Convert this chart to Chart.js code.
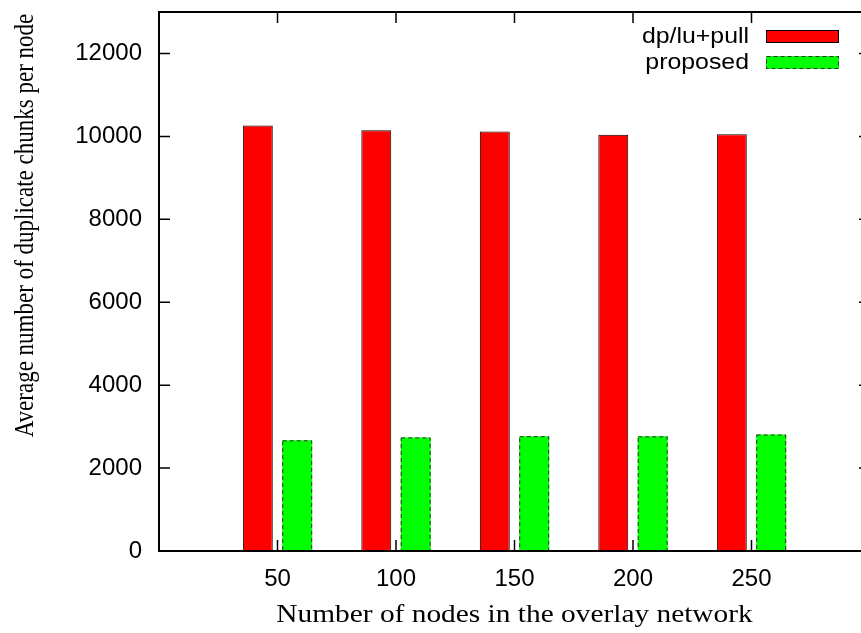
<!DOCTYPE html>
<html>
<head>
<meta charset="utf-8">
<script src="https://cdn.jsdelivr.net/npm/chart.js@4/dist/chart.umd.min.js"></script>
<style>
  html, body { margin: 0; padding: 0; overflow: hidden; background: #fff; }
  canvas { display: block; }
</style>
</head>
<body>
<canvas id="chart" width="880" height="633"></canvas>
<script>
// Number of nodes in the overlay (x categories)
const nodeCounts = [50, 100, 150, 200, 250];
// Average duplicate chunks per node for each scheme
const pullDuplicates = [10260, 10150, 10120, 10040, 10050];
const proposedDuplicates = [2670, 2740, 2770, 2765, 2810];
// Value axis ticks and range
const yTickValues = [0, 2000, 4000, 6000, 8000, 10000, 12000];
const yMax = 13000;

const seriesNames = ['dp/lu+pull', 'proposed'];
const xTitle = 'Number of nodes in the overlay network';
const yTitle = 'Average number of duplicate chunks per node';

// an empty slot on each side so the groups sit inside a wider axis
const labels = ['', ...nodeCounts.map(String), ''];
const padSeries = arr => [null, ...arr, null];

const SANS = 'Liberation Sans, Arial, sans-serif';
const SERIF = 'Liberation Serif, Times New Roman, serif';
const STRETCH = 1.13; // the lettering is set slightly wide

function wideText(ctx, text, x, y, font, align, baseline, rotate, stretch) {
  ctx.save();
  ctx.translate(x, y);
  ctx.scale(stretch || STRETCH, 1);
  if (rotate) ctx.rotate(-Math.PI / 2);
  ctx.font = font;
  ctx.textAlign = align;
  ctx.textBaseline = baseline;
  ctx.fillStyle = '#000';
  ctx.fillText(text, 0, 0);
  ctx.restore();
}

// frame, inward ticks, dashed outlines, legend and axis titles
const decorations = {
  id: 'decorations',
  afterDatasetsDraw(chart) {
    const ctx = chart.ctx;
    const meta = chart.getDatasetMeta(1);
    ctx.save();
    ctx.setLineDash([4, 3]);
    ctx.strokeStyle = '#333';
    ctx.lineWidth = 1;
    meta.data.forEach(bar => {
      const p = bar.getProps(['x', 'y', 'base', 'width'], true);
      if (!Number.isFinite(p.y) || !Number.isFinite(p.x)) return;
      ctx.strokeRect(p.x - p.width / 2 + 0.5, p.y + 0.5, p.width - 1, p.base - p.y - 1);
    });
    ctx.restore();
  },
  afterDraw(chart) {
    const ctx = chart.ctx;
    const a = chart.chartArea;
    const xs = chart.scales.x, ys = chart.scales.y;
    const tl = 11;
    ctx.save();
    ctx.strokeStyle = '#000';
    ctx.lineWidth = 1.5;
    ctx.beginPath();
    ys.ticks.forEach(t => {
      const py = ys.getPixelForValue(t.value);
      ctx.moveTo(a.left, py); ctx.lineTo(a.left + tl, py);
      ctx.moveTo(a.right, py); ctx.lineTo(a.right - tl, py);
    });
    nodeCounts.forEach((_, i) => {
      const px = xs.getPixelForValue(i + 1);
      ctx.moveTo(px, a.bottom); ctx.lineTo(px, a.bottom - tl);
      ctx.moveTo(px, a.top); ctx.lineTo(px, a.top + tl);
    });
    ctx.stroke();
    ctx.lineWidth = 2;
    ctx.strokeRect(a.left, a.top, a.right - a.left, a.bottom - a.top);

    // legend, text to the left of each swatch
    chart.data.datasets.forEach((ds, i) => {
      const cy = 36.5 + i * 26;
      wideText(ctx, ds.label, 749, cy, '22px ' + SANS, 'right', 'middle', false);
      ctx.fillStyle = ds.backgroundColor;
      ctx.fillRect(766, cy - 6.5, 73, 13);
      ctx.lineWidth = 1;
      ctx.strokeStyle = i === 0 ? '#000' : '#333';
      ctx.setLineDash(i === 0 ? [] : [4, 3]);
      ctx.strokeRect(766.5, cy - 6, 72, 12);
    });
    ctx.setLineDash([]);
    ctx.restore();

    // axis titles
    wideText(ctx, xTitle, (a.left + a.right) / 2, 622, '26px ' + SERIF, 'center', 'alphabetic', false);
    wideText(ctx, yTitle, 33, 225.5, '23px ' + SERIF, 'center', 'alphabetic', true, 1.2);
  }
};

new Chart(document.getElementById('chart'), {
  type: 'bar',
  data: {
    labels: labels,
    datasets: [
      {
        label: seriesNames[0],
        data: padSeries(pullDuplicates),
        backgroundColor: '#ff0000',
        borderColor: '#000000',
        borderWidth: 1,
        categoryPercentage: 0.665,
        barPercentage: 0.76
      },
      {
        label: seriesNames[1],
        data: padSeries(proposedDuplicates),
        backgroundColor: '#00ff00',
        borderWidth: 0,
        categoryPercentage: 0.665,
        barPercentage: 0.76
      }
    ]
  },
  options: {
    responsive: false,
    animation: false,
    layout: { padding: { top: 12, right: 10, bottom: 0, left: 0 } },
    plugins: { legend: { display: false }, tooltip: { enabled: false } },
    scales: {
      x: {
        offset: false,
        grid: { display: false, drawTicks: false },
        border: { display: false },
        ticks: {
          autoSkip: false, maxRotation: 0, padding: 14, color: '#000',
          font: { family: SANS, size: 24 }
        },
        afterFit(s) { s.height = 82; s.paddingLeft = 0; s.paddingRight = 0; }
      },
      y: {
        min: 0, max: yMax,
        grid: { display: false, drawTicks: false },
        border: { display: false },
        ticks: {
          padding: 17, color: '#000',
          font: { family: SANS, size: 24 },
          callback: v => String(v)
        },
        afterBuildTicks(s) { s.ticks = yTickValues.map(v => ({ value: v })); },
        afterFit(s) { s.width = 159; s.paddingTop = 0; s.paddingBottom = 0; }
      }
    }
  },
  plugins: [decorations]
});
</script>
</body>
</html>
